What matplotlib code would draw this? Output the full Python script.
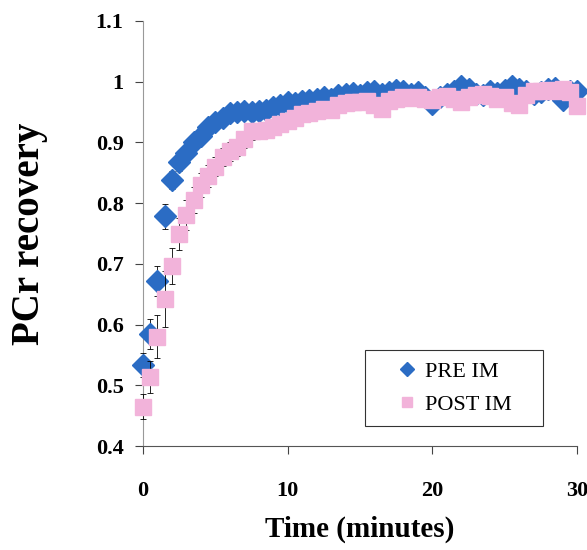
import matplotlib
matplotlib.use("Agg")
import matplotlib.pyplot as plt
from matplotlib.ticker import FixedLocator

plt.rcParams["font.family"] = ["Liberation Serif", "DejaVu Serif"]

# time points (minutes)
time_min = [
    0.0, 0.5, 1.0, 1.5, 2.0, 2.5, 3.0, 3.5, 4.0, 4.5,
    5.0, 5.5, 6.0, 6.5, 7.0, 7.5, 8.0, 8.5, 9.0, 9.5,
    10.0, 10.5, 11.0, 11.5, 12.0, 12.5, 13.0, 13.5, 14.0, 14.5,
    15.0, 15.5, 16.0, 16.5, 17.0, 17.5, 18.0, 18.5, 19.0, 19.5,
    20.0, 20.5, 21.0, 21.5, 22.0, 22.5, 23.0, 23.5, 24.0, 24.5,
    25.0, 25.5, 26.0, 26.5, 27.0, 27.5, 28.0, 28.5, 29.0, 29.5,
    30.0,
]

pre_im = [
    0.533, 0.585, 0.672, 0.778, 0.838, 0.868, 0.882, 0.900, 0.910, 0.925,
    0.934, 0.940, 0.948, 0.950, 0.951, 0.950, 0.952, 0.954, 0.958, 0.962,
    0.966, 0.965, 0.968, 0.970, 0.972, 0.975, 0.972, 0.978, 0.980, 0.982,
    0.978, 0.983, 0.985, 0.980, 0.983, 0.986, 0.984, 0.980, 0.983, 0.975,
    0.963, 0.975, 0.980, 0.985, 0.993, 0.988, 0.980, 0.978, 0.984, 0.982,
    0.986, 0.992, 0.988, 0.985, 0.980, 0.983, 0.988, 0.990, 0.970, 0.985,
    0.984,
]
pre_err = [
    0.020, 0.025, 0.025, 0.020, 0.015, 0.015, 0.012, 0.012, 0.012, 0.012,
    0.010, 0.010, 0.010, 0.010, 0.010, 0.010, 0.010, 0.010, 0.010, 0.010,
    0.010, 0.010, 0.010, 0.010, 0.010, 0.010, 0.010, 0.010, 0.010, 0.010,
    0.010, 0.010, 0.010, 0.010, 0.010, 0.010, 0.010, 0.010, 0.010, 0.010,
    0.010, 0.010, 0.010, 0.010, 0.010, 0.010, 0.010, 0.010, 0.010, 0.010,
    0.010, 0.010, 0.010, 0.010, 0.010, 0.010, 0.010, 0.010, 0.010, 0.010,
    0.010,
]

post_im = [
    0.465, 0.514, 0.580, 0.642, 0.696, 0.749, 0.780, 0.805, 0.830, 0.845,
    0.860, 0.876, 0.885, 0.892, 0.905, 0.918, 0.918, 0.921, 0.925, 0.930,
    0.935, 0.940, 0.946, 0.948, 0.952, 0.955, 0.953, 0.962, 0.965, 0.967,
    0.966, 0.968, 0.962, 0.955, 0.968, 0.972, 0.975, 0.973, 0.975, 0.972,
    0.970, 0.974, 0.976, 0.972, 0.966, 0.975, 0.978, 0.980, 0.976, 0.972,
    0.975, 0.965, 0.962, 0.978, 0.985, 0.984, 0.987, 0.985, 0.988, 0.983,
    0.960,
]
post_err = [
    0.020, 0.026, 0.035, 0.046, 0.030, 0.026, 0.025, 0.022, 0.020, 0.018,
    0.016, 0.015, 0.015, 0.014, 0.014, 0.014, 0.013, 0.013, 0.013, 0.012,
    0.012, 0.012, 0.012, 0.012, 0.012, 0.012, 0.012, 0.012, 0.012, 0.012,
    0.012, 0.012, 0.012, 0.012, 0.012, 0.012, 0.012, 0.012, 0.012, 0.012,
    0.012, 0.012, 0.012, 0.012, 0.012, 0.012, 0.012, 0.012, 0.012, 0.012,
    0.012, 0.012, 0.012, 0.012, 0.012, 0.012, 0.012, 0.012, 0.012, 0.012,
    0.012,
]

x_ticks = [0, 10, 20, 30]
y_ticks = [0.4, 0.5, 0.6, 0.7, 0.8, 0.9, 1.0, 1.1]
y_tick_labels = ["0.4", "0.5", "0.6", "0.7", "0.8", "0.9", "1", "1.1"]

blue = "#2B6CC4"
pink = "#F2B3DA"

fig = plt.figure(figsize=(5.87, 5.5), dpi=100)
ax = fig.add_axes([0.2436, 0.189, 0.7394, 0.773])

ax.errorbar(time_min, pre_im, yerr=pre_err, fmt="D", color=blue, ms=11.5,
            mec=blue, ecolor="black", elinewidth=0.6, capsize=2.5,
            capthick=0.6, label="PRE IM", clip_on=False, zorder=3)
ax.errorbar(time_min, post_im, yerr=post_err, fmt="s", color=pink, ms=11.5,
            mec=pink, ecolor="black", elinewidth=0.6, capsize=2.5,
            capthick=0.6, label="POST IM", clip_on=False, zorder=4)

ax.set_xlim(0, 30)
ax.set_ylim(0.4, 1.1)
ax.xaxis.set_major_locator(FixedLocator(x_ticks))
ax.yaxis.set_major_locator(FixedLocator(y_ticks))
ax.set_yticklabels(y_tick_labels)

for s in ["top", "right"]:
    ax.spines[s].set_visible(False)
ax.spines["left"].set_color("#999999")
ax.spines["left"].set_linewidth(0.8)
ax.spines["bottom"].set_color("#555555")
ax.spines["bottom"].set_linewidth(0.8)

ax.tick_params(axis="both", direction="out", length=6, width=0.8,
               color="#444444", labelsize=16)
ax.tick_params(axis="y", pad=8)
ax.tick_params(axis="x", pad=19)
for lab in ax.get_xticklabels() + ax.get_yticklabels():
    lab.set_fontweight("bold")

ax.set_xlabel("Time (minutes)", fontsize=21, fontweight="bold", labelpad=11)
ax.set_ylabel("PCr recovery", fontsize=28, fontweight="bold", labelpad=34)

handles, labels = ax.get_legend_handles_labels()
handles = [h[0] for h in handles]
leg = ax.legend(handles, labels, loc="center",
                bbox_to_anchor=(0.512, 0.045, 0.41, 0.183), mode="expand",
                prop={"size": 16}, frameon=True, fancybox=False,
                edgecolor="black", markerscale=0.6, handlelength=2.8,
                handletextpad=-0.6, labelspacing=0.55, borderpad=0.5,
                borderaxespad=0)
leg.get_frame().set_linewidth(0.8)

fig.savefig("out.png", dpi=100)
